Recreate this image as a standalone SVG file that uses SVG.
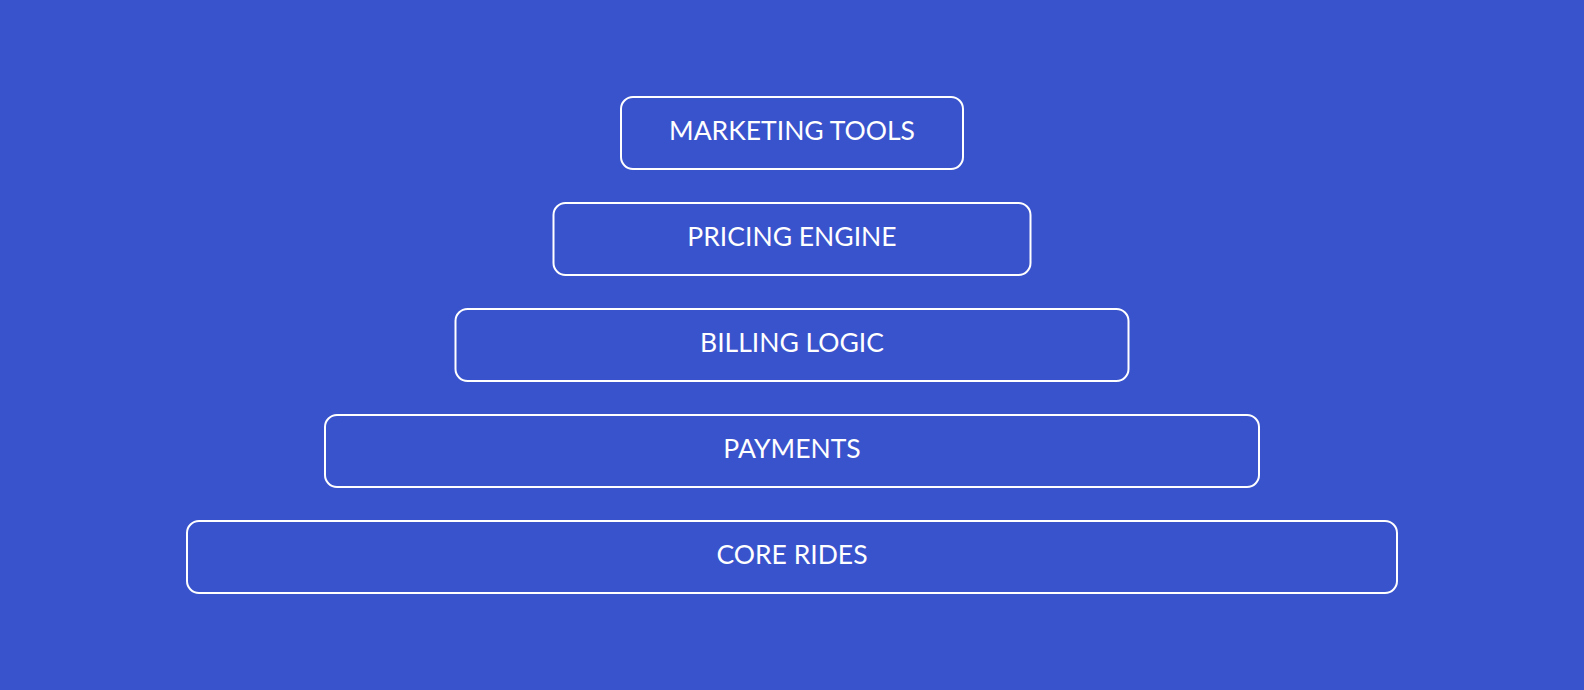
<svg xmlns="http://www.w3.org/2000/svg" width="1584" height="690" viewBox="0 0 1584 690">
<style>
.box{fill:none;stroke:#ffffff;stroke-width:2}
.lbl{font-family:Lato,"Liberation Sans",sans-serif;font-size:26.5px;fill:#ffffff;text-anchor:middle}
</style>
<rect width="1584" height="690" fill="#3953CD"/>
<g id="marketing-tools"><rect class="box" x="621" y="97" width="342" height="72" rx="12"/><text class="lbl" x="792" y="139.5">MARKETING TOOLS</text></g>
<g id="pricing-engine"><rect class="box" x="553.5" y="203" width="477" height="72" rx="12"/><text class="lbl" x="792" y="245.5">PRICING ENGINE</text></g>
<g id="billing-logic"><rect class="box" x="455.5" y="309" width="673" height="72" rx="12"/><text class="lbl" x="792" y="351.5">BILLING LOGIC</text></g>
<g id="payments"><rect class="box" x="325" y="415" width="934" height="72" rx="12"/><text class="lbl" x="792" y="457.5">PAYMENTS</text></g>
<g id="core-rides"><rect class="box" x="187" y="521" width="1210" height="72" rx="12"/><text class="lbl" x="792" y="563.5">CORE RIDES</text></g>
<g id="connectors"/>
</svg>
